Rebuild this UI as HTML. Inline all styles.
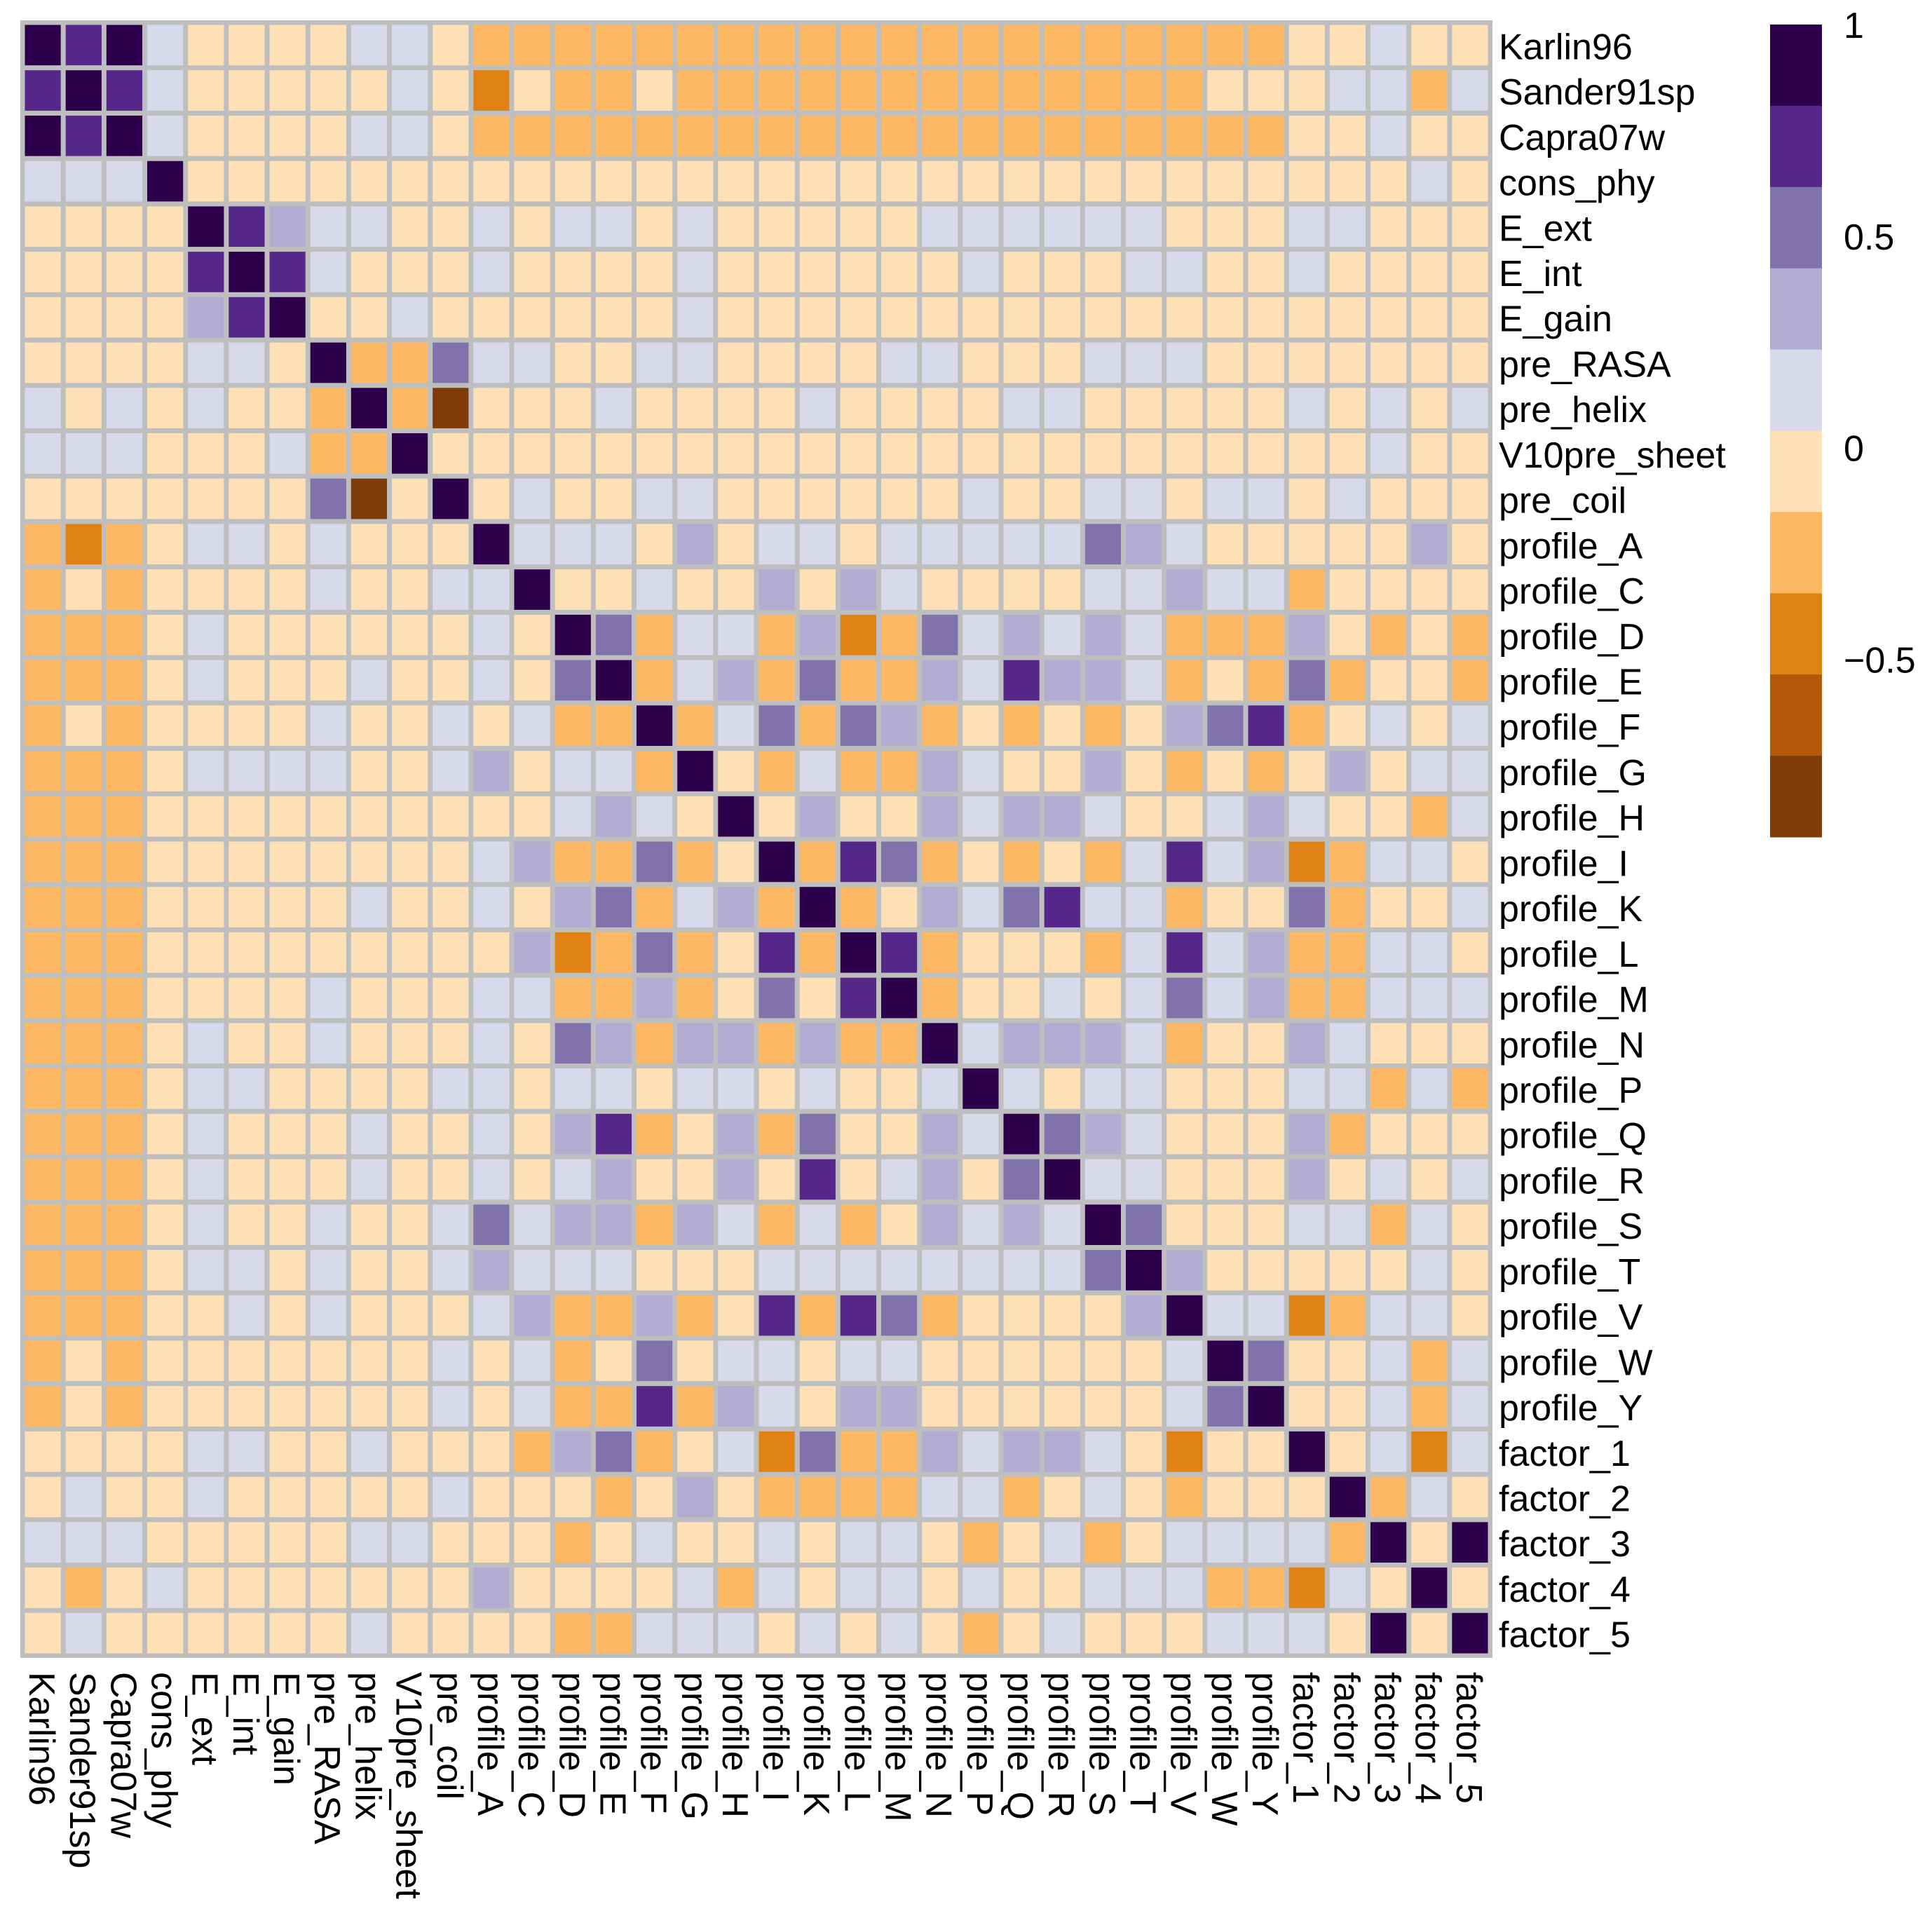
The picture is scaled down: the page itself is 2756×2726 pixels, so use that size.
<!DOCTYPE html>
<html><head><meta charset="utf-8"><style>
html,body{margin:0;padding:0;background:#fff;}
svg{display:block;font-family:"Liberation Sans",Arial,sans-serif;}
</style></head><body>
<svg id="chart" width="2756" height="2726" viewBox="0 0 2756 2726" xmlns="http://www.w3.org/2000/svg">
<g id="cells"></g>
<g id="rowlabels"></g>
<g id="collabels"></g>
<g id="legend"></g>
</svg>
<script>
const labels = ["Karlin96","Sander91sp","Capra07w","cons_phy","E_ext","E_int","E_gain","pre_RASA","pre_helix","V10pre_sheet","pre_coil","profile_A","profile_C","profile_D","profile_E","profile_F","profile_G","profile_H","profile_I","profile_K","profile_L","profile_M","profile_N","profile_P","profile_Q","profile_R","profile_S","profile_T","profile_V","profile_W","profile_Y","factor_1","factor_2","factor_3","factor_4","factor_5"];
// codes: D=0.95 P=0.7 M=0.52 L=0.33 l=0.13 c=-0.05 o=-0.25 O=-0.45 B=-0.63 X=-0.85
const codeValues = {D:0.95,P:0.7,M:0.52,L:0.33,l:0.13,c:-0.05,o:-0.25,O:-0.45,B:-0.63,X:-0.85};
const rowData = [
"D P D l c c c c l l c o o o o o o o o o o o o o o o o o o o o c c l c c",
"P D P l c c c c c l c O c o o c o o o o o o o o o o o o o c c c l l o l",
"D P D l c c c c l l c o o o o o o o o o o o o o o o o o o o o c c l c c",
"l l l D c c c c c c c c c c c c c c c c c c c c c c c c c c c c c c l c",
"c c c c D P L l l c c l c l l c l c c c c c l l l l l l c c c l l c c c",
"c c c c P D P l c c c l c c c c l c c c c c c l c c c l l c c l c c c c",
"c c c c L P D c c l c c c c c c l c c c c c c c c c c c c c c c c c c c",
"c c c c l l c D o o M l l c c l l c c c c l l c c c l l l c c c c c c c",
"l c l c l c c o D o X c c c l c c c c l c c c c l l c c c c c l c l c l",
"l l l c c c l o o D c c c c c c c c c c c c c c c c c c c c c c c l c c",
"c c c c c c c M X c D c l c c l l c c c c c c l c c l l c l l c l c c c",
"o O o c l l c l c c c D l l l c L c l l c l l l l l M L l c c c c c L c",
"o c o c c c c l c c l l D c c l c c L c L l c c c c l l L l l o c c c c",
"o o o c l c c c c c c l c D M o l l o L O o M l L l L l o o o L c o c o",
"o o o c l c c c l c c l c M D o l L o M o o L l P L L l o c o M o c c o",
"o c o c c c c l c c l c l o o D o l M o M L o c o c o c L M P o c l c l",
"o o o c l l l l c c l L c l l o D c o l o o L l c c L c o c o c L c l l",
"o o o c c c c c c c c c c l L l c D c L c c L l L L l c c l L l c c o l",
"o o o c c c c c c c c l L o o M o c D o P M o c o c o l P l L O o l l c",
"o o o c c c c c l c c l c L M o l L o D o c L l M P l l o c c M o c c l",
"o o o c c c c c c c c c L O o M o c P o D P o c c c o l P l L o o l l c",
"o o o c c c c l c c c l l o o L o c M c P D o c c l c l M l L o o l l l",
"o o o c l c c l c c c l c M L o L L o L o o D l L L L l o c c L l c c c",
"o o o c l l c c c c l l c l l c l l c l c c l D l c l l c c c l l o l o",
"o o o c l c c c l c c l c L P o c L o M c c L l D M L l c c c L o c c c",
"o o o c l c c c l c c l c l L c c L c P c l L c M D l l c c c L c l c l",
"o o o c l c c l c c l M l L L o L l o l o c L l L l D M c c c l l o l c",
"o o o c l l c l c c l L l l l c c c l l l l l l l l M D L c c c c c l c",
"o o o c c l c l c c c l L o o L o c P o P M o c c c c L D l l O o l l c",
"o c o c c c c c c c l c l o c M c l l c l l c c c c c c l D M c c l o l",
"o c o c c c c c c c l c l o o P o L l c L L c c c c c c l M D c c l o l",
"c c c c l l c c l c c c o L M o c l O M o o L l L L l c O c c D c l O l",
"c l c c l c c c c c l c c c o c L c o o o o l l o c l c o c c c D o l c",
"l l l c c c c c l l c c c o c l c c l c l l c o c l o c l l l l o D c D",
"c o c l c c c c c c c L c c c c l o l c l l c l c c l l l o o O l c D c",
"c l c c c c c c l c c c c o o l l l c l c l c o c l c c c l l l c D c D"
];
const binColors = ["#2d004b","#542788","#8073ac","#b2abd2","#d8daeb","#fee0b6","#fdb863","#e08214","#b35806","#7f3b08"];
const legendTicks = [1, 0.5, 0, -0.5];
const legendTickText = ["1","0.5","0","\u22120.5"];
const corr = rowData.map(r => r.split(" ").slice(0,36).map(c => codeValues[c]));

const NS = "http://www.w3.org/2000/svg";
const X0 = 32, Y0 = 32, W = 2094, H = 2330, N = labels.length;
const cw = W / N, ch = H / N;
const BMAX = 1, BMIN = -0.92;
function xScale(i){ return X0 + i * cw; }
function yScale(i){ return Y0 + i * ch; }
function colorOf(v){
  let k = Math.floor((BMAX - v) / ((BMAX - BMIN) / 10));
  k = Math.max(0, Math.min(9, k));
  return binColors[k];
}
const cells = document.getElementById("cells");
const bg = document.createElementNS(NS, "rect");
bg.setAttribute("x", X0 - 3); bg.setAttribute("y", Y0 - 3);
bg.setAttribute("width", W + 6); bg.setAttribute("height", H + 6);
bg.setAttribute("fill", "#bebebe");


cells.appendChild(bg);
for (let r = 0; r < N; r++) {
  for (let c = 0; c < N; c++) {
    const el = document.createElementNS(NS, "rect");
    el.setAttribute("x", (xScale(c) + 3.5).toFixed(1));
    el.setAttribute("y", (yScale(r) + 3.5).toFixed(1));
    el.setAttribute("width", (cw - 7).toFixed(1));
    el.setAttribute("height", (ch - 7).toFixed(1));
    el.setAttribute("fill", colorOf(corr[r][c]));
    
    
    cells.appendChild(el);
  }
}
const rl = document.getElementById("rowlabels");
labels.forEach((lab, i) => {
  const t = document.createElementNS(NS, "text");
  t.setAttribute("x", 2138);
  t.setAttribute("y", (yScale(i) + ch / 2 + 20).toFixed(1));
  t.setAttribute("font-size", "52");
  t.setAttribute("fill", "#000");
  t.textContent = lab;
  
  
  rl.appendChild(t);
});
const cl = document.getElementById("collabels");
labels.forEach((lab, i) => {
  const t = document.createElementNS(NS, "text");
  const x = xScale(i) + cw / 2 - 19, y = 2385;
  t.setAttribute("x", x.toFixed(1));
  t.setAttribute("y", y);
  t.setAttribute("transform", "rotate(90 " + x.toFixed(1) + " " + y + ")");
  t.setAttribute("font-size", "52");
  t.setAttribute("fill", "#000");
  t.textContent = lab;
  
  
  cl.appendChild(t);
});
const lg = document.getElementById("legend");
const LX = 2525, LW = 74, LT = 35, LB = 1194;
const lh = (LB - LT) / binColors.length;
binColors.forEach((col, k) => {
  const r = document.createElementNS(NS, "rect");
  r.setAttribute("x", LX); r.setAttribute("y", (LT + k * lh).toFixed(1));
  r.setAttribute("width", LW); r.setAttribute("height", (lh + 0.5).toFixed(1));
  r.setAttribute("fill", col);
  
  
  lg.appendChild(r);
});
function legendY(v){ return LT + (BMAX - v) / (BMAX - BMIN) * (LB - LT); }
legendTicks.forEach((v, k) => {
  const t = document.createElementNS(NS, "text");
  t.setAttribute("x", 2630);
  t.setAttribute("y", (legendY(v) + 19).toFixed(1));
  t.setAttribute("font-size", "52");
  t.setAttribute("fill", "#000");
  t.textContent = legendTickText[k];
  
  
  lg.appendChild(t);
});
</script>
</body></html>
